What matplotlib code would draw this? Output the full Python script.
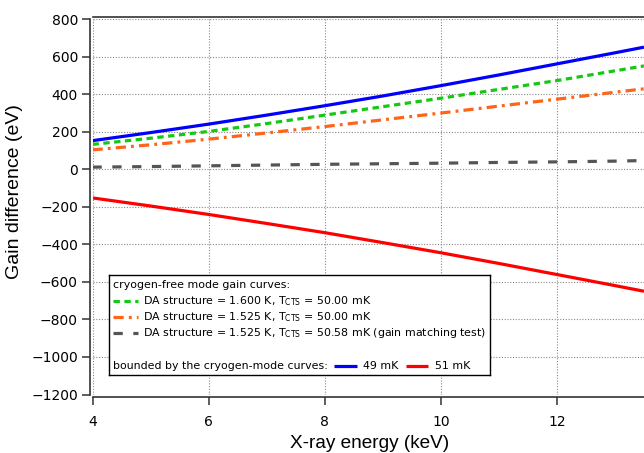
import matplotlib
matplotlib.use("Agg")
import matplotlib.pyplot as plt
from matplotlib.lines import Line2D

# Gain difference vs. X-ray energy
energy_kev = [4, 5, 6, 7, 8, 9, 10, 11, 12, 13, 13.5]
gain_49mk = [152, 195, 240, 288, 338, 390, 445, 502, 561, 620, 650]
gain_51mk = [-153, -196, -241, -289, -338, -391, -445, -502, -561, -620, -650]
gain_da1600_50mk = [132, 165, 201, 243, 288, 333, 378, 425, 472, 524, 550]
gain_da1525_50mk = [103, 130, 160, 193, 227, 263, 299, 336, 373, 410, 428]
gain_da1525_5058mk = [11, 14, 18, 22, 26, 29, 32, 36, 39, 43, 46]

xticks = [4, 6, 8, 10, 12]
yticks = [-1200, -1000, -800, -600, -400, -200, 0, 200, 400, 600, 800]

W, H = 644, 453
fig = plt.figure(figsize=(W / 100, H / 100), dpi=100)
fig.patch.set_facecolor("white")

ax = fig.add_axes([92.5 / W, (H - 394.5) / H, 1 - 92.5 / W, (394.5 - 19) / H])
ax.set_xlim(4, 13.5)
ax.set_ylim(-1200, 800)

LW = 2.3
styles = {
    "49": dict(color="#0000FF", lw=LW, ls="-", solid_capstyle="butt"),
    "51": dict(color="#FF0000", lw=LW, ls="-", solid_capstyle="butt"),
    "g": dict(color="#14C814", lw=LW, dashes=(2.0, 1.4)),
    "o": dict(color="#FF6418", lw=LW, dashes=(3.2, 1.6, 0.9, 1.6)),
    "k": dict(color="#555555", lw=LW, dashes=(2.9, 3.3)),
}

ax.plot(energy_kev, gain_da1525_5058mk, zorder=3, **styles["k"])
ax.plot(energy_kev, gain_da1525_50mk, zorder=3, **styles["o"])
ax.plot(energy_kev, gain_da1600_50mk, zorder=3, **styles["g"])
ax.plot(energy_kev, gain_51mk, zorder=3, **styles["51"])
ax.plot(energy_kev, gain_49mk, zorder=3, **styles["49"])

ax.set_xticks(xticks)
ax.set_yticks(yticks)
ax.grid(True, color="#8a8a8a", lw=0.8, ls=(0, (1, 1.5)), zorder=1)
ax.set_axisbelow(True)

tick_font = dict(family="Liberation Sans", size=11.5)
ax.set_xticklabels([str(v) for v in xticks], **tick_font)
ax.set_yticklabels([f"{v}".replace("-", "\u2212") for v in yticks], **tick_font)
ax.tick_params(axis="both", direction="out", length=6, width=1.1, color="#333333")
ax.tick_params(axis="x", pad=7)
ax.tick_params(axis="y", pad=3)

for side in ("left", "bottom", "top"):
    ax.spines[side].set_position(("outward", 1.5))
    ax.spines[side].set_color("#333333")
    ax.spines[side].set_linewidth(1.2)
ax.spines["right"].set_visible(False)

fig.text(14.5 / W, 1 - 191.5 / H, "Gain difference (eV)", rotation=90,
         ha="center", va="center", family="Liberation Sans", size=14)
fig.text(370 / W, 1 - 444 / H, "X-ray energy (keV)",
         ha="center", va="center", family="Liberation Sans", size=13.7)

# Legend panel, laid out in pixel units of its own box
bx0, bx1, by0, by1 = 109, 490, 275, 375
lax = fig.add_axes([bx0 / W, (H - by1) / H, (bx1 - bx0) / W, (by1 - by0) / H])
lax.set_xlim(0, bx1 - bx0)
lax.set_ylim(by1 - by0, 0)
lax.set_xticks([])
lax.set_yticks([])
lax.set_facecolor("white")
for s in lax.spines.values():
    s.set_color("black")
    s.set_linewidth(1.0)

leg_font = dict(family="DejaVu Sans", size=7.9, va="center", ha="left")
lax.text(3.7, 10, "cryogen-free mode gain curves:", **leg_font)
rows = [
    (25.7, "g", r"DA structure = 1.600 K, T$_\mathregular{CTS}$ = 50.00 mK"),
    (41.7, "o", r"DA structure = 1.525 K, T$_\mathregular{CTS}$ = 50.00 mK"),
    (57.7, "k", r"DA structure = 1.525 K, T$_\mathregular{CTS}$ = 50.58 mK (gain matching test)"),
]
for y, key, label in rows:
    lax.add_line(Line2D([3.7, 29.3], [y, y], **styles[key]))
    lax.text(34.3, y, label, **leg_font)

# Bottom row: text, sample, text, sample, text — chained by measured widths
renderer = fig.canvas.get_renderer()


def text_right(t):
    bb = t.get_window_extent(renderer=renderer)
    return bb.x1 / fig.dpi * 100 - bx0


yb = 91
sample_len, gap_before, gap_after = 22.5, 6.5, 6.5
x = 3.7
t = lax.text(x, yb, "bounded by the cryogen-mode curves:", **leg_font)
x = text_right(t) + gap_before
for key, label in (("49", "49 mK"), ("51", "51 mK")):
    lax.add_line(Line2D([x, x + sample_len], [yb, yb], **styles[key]))
    t = lax.text(x + sample_len + gap_after, yb, label, **leg_font)
    x = text_right(t) + gap_before + 1

fig.savefig("out.png", dpi=100)
